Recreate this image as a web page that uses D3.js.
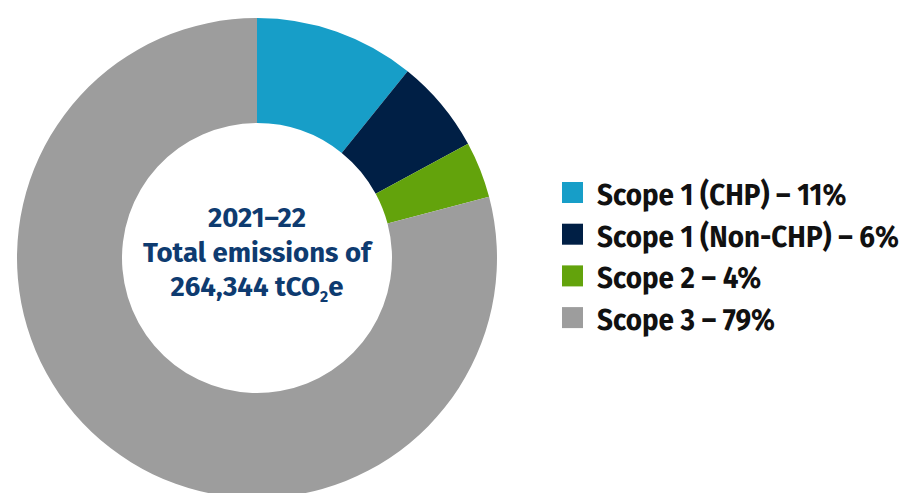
<!DOCTYPE html>
<html>
<head>
<meta charset="utf-8">
<script src="https://d3js.org/d3.v7.min.js"></script>
<style>
  html, body { margin: 0; padding: 0; background: #fff; overflow: hidden; }
  text { font-family: "Fira Sans", Roboto, "Noto Sans", sans-serif; font-weight: 700; }
</style>
</head>
<body>
<svg id="chart" width="902" height="493"></svg>
<script>
const categories = ['Scope 1 (CHP)', 'Scope 1 (Non-CHP)', 'Scope 2', 'Scope 3'];
const shares = [10.8, 6.3, 3.8, 79.1];
const pctLabels = ['11%', '6%', '4%', '79%'];
const colors = ['#179ec8', '#001f45', '#63a30c', '#9d9d9d'];
const centerLines = ['2021–22', 'Total emissions of'];
const totalLabel = '264,344';

const svg = d3.select('#chart');
const cx = 257, cy = 258, outerR = 240, innerR = 135;

const pie = d3.pie().sort(null).value(d => d);
const arc = d3.arc().innerRadius(innerR).outerRadius(outerR);

const donut = svg.append('g').attr('transform', `translate(${cx},${cy})`);
donut.selectAll('path')
  .data(pie(shares))
  .join('path')
  .attr('d', arc)
  .attr('fill', (d, i) => colors[i]);

// centre label
const centre = donut.append('g').attr('fill', '#0e3b70').attr('text-anchor', 'middle').style('font-size', '28px');
centre.selectAll('text.line')
  .data(centerLines)
  .join('text')
  .attr('class', 'line')
  .attr('y', (d, i) => -31 + i * 34.5)
  .text(d => d);
const last = centre.append('text').attr('y', 38.5);
last.append('tspan').text(totalLabel + ' tCO');
last.append('tspan').attr('dy', 6).style('font-size', '16px').text('2');
last.append('tspan').attr('dy', -6).text('e');

// fit centre text width
const ref = centre.selectAll('text.line').nodes()[1];
const cw = ref.getComputedTextLength();
centre.attr('transform', `scale(${228 / cw},1)`);

// legend
const legend = svg.append('g').attr('transform', 'translate(562,182)');
const rows = legend.selectAll('g')
  .data(categories)
  .join('g')
  .attr('transform', (d, i) => `translate(0,${i * 41.7})`);
rows.append('rect')
  .attr('width', 21).attr('height', 21)
  .attr('fill', (d, i) => colors[i]);
const labels = rows.append('text')
  .attr('x', 0)
  .attr('y', 23)
  .attr('fill', '#111')
  .style('font-size', '31px')
  .text((d, i) => `${d} – ${pctLabels[i]}`);
const lw = labels.nodes()[1].getComputedTextLength();
labels.attr('transform', `translate(35,0) scale(${302 / lw},1)`);
</script>
</body>
</html>
